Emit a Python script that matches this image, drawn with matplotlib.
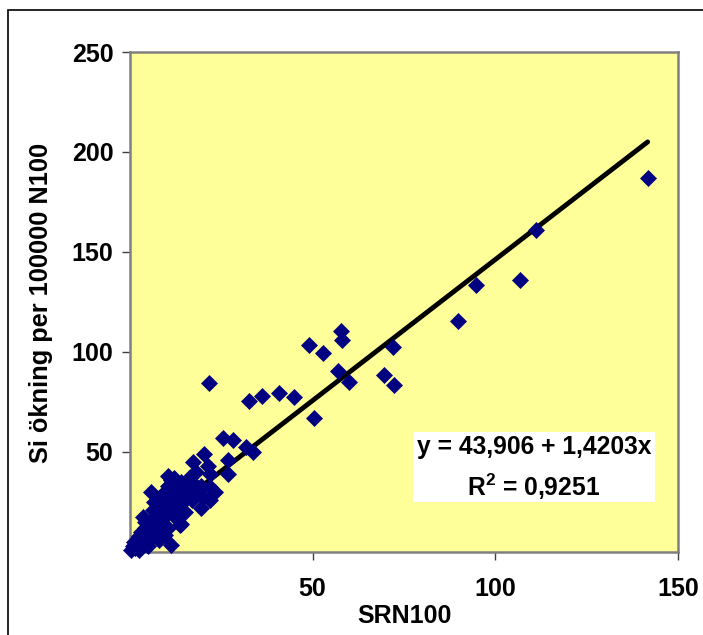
import numpy as np
import matplotlib.pyplot as plt
from matplotlib.patches import Rectangle

plt.rcParams['font.family'] = ['Liberation Sans', 'DejaVu Sans']
plt.rcParams['font.weight'] = 'bold'
plt.rcParams['mathtext.fontset'] = 'custom'
plt.rcParams['mathtext.rm'] = 'Liberation Sans:bold'
plt.rcParams['mathtext.bf'] = 'Liberation Sans:bold'

# SRN100 (x) vs Si increase per 100000 N100 (y)
srn100 = [141.7, 111.0, 106.7, 94.7, 89.8, 72.2, 71.9, 69.6, 57.8, 58.0,
          49.0, 52.7, 56.8, 60.0, 50.4, 44.8, 40.7, 36.2, 32.7, 21.6,
          33.6, 31.8, 28.1, 25.4,
          20.2, 17.2, 21.3, 26.8, 26.8, 21.8, 16.3, 13.6, 10.4, 11.3,
          19.5, 21.8, 23.2, 19.9, 21.8, 19.5, 14.0, 13.6, 11.3, 9.5,
          5.8, 6.3, 3.5,
          0.3, 0.8, 1.2, 1.5, 2.0, 2.5, 2.6, 3.0, 3.0, 3.5,
          4.0, 4.0, 4.5, 5.0, 5.0, 5.3, 5.5, 6.0, 6.5, 6.7,
          7.0, 7.5, 7.5, 8.0, 8.0, 8.5, 8.5, 9.0, 9.0, 9.5,
          10.0, 10.0, 10.3, 10.5, 11.0, 11.5, 12.0, 12.0, 12.5, 13.0,
          13.5, 14.0, 14.5, 15.0, 15.0, 15.5, 16.0, 16.5, 17.0, 17.5,
          18.0, 18.5]
si_okning = [186.9, 161.0, 136.0, 133.5, 115.5, 83.5, 102.5, 88.5, 110.5, 106.0,
             103.5, 99.5, 90.5, 85.0, 66.7, 77.5, 79.5, 78.0, 75.5, 84.5,
             50.0, 52.4, 56.0, 57.0,
             49.0, 45.0, 43.0, 46.0, 39.0, 39.0, 37.5, 33.0, 38.0, 36.0,
             33.0, 32.5, 30.0, 27.5, 26.0, 21.6, 14.0, 13.3, 3.3, 8.3,
             30.0, 20.8, 17.5,
             1.0, 3.0, 5.0, 2.0, 6.0, 8.0, 1.0, 4.0, 10.0, 7.0,
             12.0, 15.0, 9.0, 3.0, 14.0, 6.0, 11.0, 16.0, 13.0, 25.0,
             18.0, 10.0, 22.0, 20.0, 6.0, 15.0, 28.0, 24.0, 17.0, 30.0,
             21.0, 27.0, 33.0, 12.0, 25.0, 29.0, 37.0, 18.0, 31.0, 27.0,
             22.0, 35.0, 25.0, 30.0, 20.0, 33.0, 28.0, 31.0, 26.0, 34.0,
             40.0, 30.0]

# trend line as drawn (intercept, slope) and the label text from the chart
trend_b0, trend_b1 = 5.0, 1.4115
eq_text = "y = 43,906 + 1,4203x"
r2_text = r"R$^{\mathbf{2}}$ = 0,9251"

W, H = 703, 635
fig = plt.figure(figsize=(W / 100, H / 100), dpi=100)
ax = fig.add_axes([130 / W, 1 - 551.5 / H, 548 / W, 499.5 / H])
ax.set_facecolor('#FFFF99')

xs = np.array([min(srn100), max(srn100)])
ax.plot(xs, trend_b0 + trend_b1 * xs, color='black', lw=3.5, solid_capstyle='round', zorder=3)
ax.plot(srn100, si_okning, ls='none', marker='D', ms=8.5, color='#000080',
        mec='#000080', mew=0.5, zorder=4, clip_on=False)

ax.set_xlim(0, 150)
ax.set_ylim(0, 250)
ax.set_xticks([50, 100, 150])
ax.set_yticks([50, 100, 150, 200, 250])
ax.tick_params(axis='both', direction='out', length=6, width=1, color='#404040',
               labelsize=18, pad=6)
ax.tick_params(axis='x', pad=12)
for lab in ax.get_xticklabels() + ax.get_yticklabels():
    lab.set_fontweight('bold')
for sp in ax.spines.values():
    sp.set_color('#808080')
    sp.set_linewidth(1.8)

# regression label box
ax.add_patch(Rectangle((0.516, 0.099), 0.442, 0.140, transform=ax.transAxes,
                       facecolor='white', edgecolor='none', zorder=5))
ax.text(0.737, 0.209, eq_text, transform=ax.transAxes, ha='center', va='center',
        fontsize=17.7, fontweight='bold', zorder=6)
ax.text(0.737, 0.129, r2_text, transform=ax.transAxes, ha='center', va='center',
        fontsize=17.7, fontweight='bold', zorder=6)

fig.text(41 / W, 1 - 303 / H, "Si ökning per 100000 N100", rotation=90,
         ha='center', va='center', fontsize=18.3, fontweight='bold')
fig.text(404 / W, 1 - 616 / H, "SRN100", ha='center', va='center',
         fontsize=18, fontweight='bold')

# outer chart frame (only top and left edges fall inside the image)
fig.patches.append(Rectangle((8 / W, -0.1), 1.2, 1.1 - 10 / H, transform=fig.transFigure,
                             fill=False, edgecolor='black', lw=1.2))

fig.savefig('out.png', dpi=100)
